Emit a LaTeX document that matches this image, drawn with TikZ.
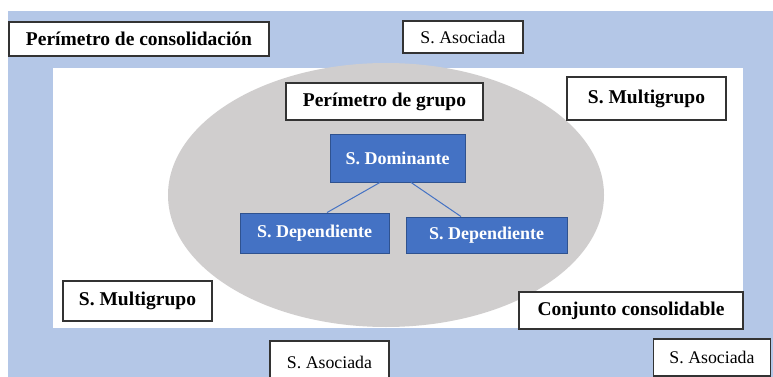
\documentclass[tikz,border=0pt]{standalone}
\usepackage{fontspec}
\setmainfont{Liberation Serif}
\definecolor{bgblue}{HTML}{B4C7E7}
\definecolor{ellgray}{HTML}{D0CECE}
\definecolor{boxblue}{HTML}{4472C4}
\definecolor{boxedge}{HTML}{2F528F}
\begin{document}
\begin{tikzpicture}[x=1pt,y=-1pt,
  wbox/.style={draw=black!80, line width=1.3pt, fill=white, inner sep=0pt},
  bbox/.style={draw=boxedge, line width=0.9pt, fill=boxblue, inner sep=0pt, text=white,
    font=\fontsize{18}{20}\selectfont\bfseries},
  boldtxt/.style={font=\fontsize{19.5}{22}\selectfont\bfseries},
  regtxt/.style={font=\fontsize{17.8}{20}\selectfont},
  link/.style={draw=boxblue, line width=1pt}]
\useasboundingbox (0,0) rectangle (773,377);
\fill[white] (0,0) rectangle (773,377);
% background areas
\fill[bgblue] (8,11) rectangle (773,377);
\fill[white] (53,68) rectangle (743,328);
\fill[ellgray] (386,195) ellipse [x radius=218, y radius=132];
% white boxes
\node[wbox, boldtxt, minimum width=260, minimum height=34] (pcons) at (139,39) {Perímetro de consolidación};
\node[wbox, regtxt, minimum width=120, minimum height=32] (asoc1) at (463,37) {S. Asociada};
\node[wbox, boldtxt, minimum width=159, minimum height=43] (multi1) at (646.5,98.5) {S. Multigrupo};
\node[wbox, boldtxt, minimum width=197, minimum height=37] (pgrupo) at (384.5,101.5) {Perímetro de grupo};
\node[wbox, boldtxt, minimum width=149, minimum height=40] (multi2) at (137.5,301) {S. Multigrupo};
\node[wbox, boldtxt, minimum width=224, minimum height=37] (conj) at (631,310.5) {Conjunto consolidable};
\node[wbox, regtxt, minimum width=119, minimum height=42] (asoc2) at (329.5,362) {S. Asociada};
\node[wbox, regtxt, minimum width=117, minimum height=37] (asoc3) at (712,357.5) {S. Asociada};
% blue boxes
\node[bbox, minimum width=135, minimum height=48] (dom) at (397.5,158) {S. Dominante};
\node[bbox, minimum width=149, minimum height=40] (dep1) at (314.5,233) {S. Dependiente};
\node[bbox, minimum width=161, minimum height=36] (dep2) at (486.5,235) {S. Dependiente};
% connectors
\draw[link] ([xshift=-17.5pt]dom.south) -- ([xshift=12.5pt]dep1.north);
\draw[link] ([xshift=13.5pt]dom.south) -- ([xshift=-25.5pt]dep2.north);
\end{tikzpicture}
\end{document}
